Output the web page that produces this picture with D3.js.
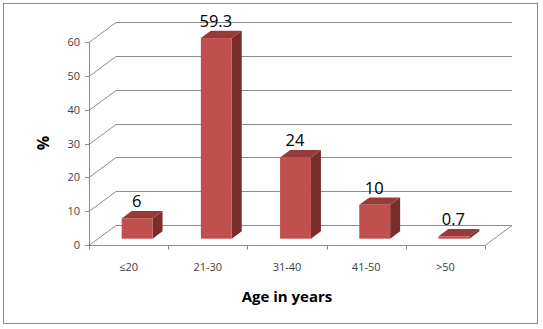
<!DOCTYPE html>
<html><head><meta charset="utf-8">
<script src="https://cdn.jsdelivr.net/npm/d3@7"></script>
<style>body{margin:0;background:#fff}svg{display:block}</style>
</head><body>
<svg id="c" width="543" height="329"></svg>
<script>
const categories = ["≤20", "21-30", "31-40", "41-50", ">50"];
const values = [6, 59.3, 24, 10, 0.7];
const labels = ["6", "59.3", "24", "10", "0.7"];
const yTicks = [0, 10, 20, 30, 40, 50, 60];

const svg = d3.select("#c");
svg.append("rect").attr("x", 3.5).attr("y", 3.5).attr("width", 534).attr("height", 320)
  .attr("fill", "#fff").attr("stroke", "#8a8a8a").attr("stroke-width", 1);

const x = d3.scaleBand().domain(categories).range([89, 485]);
const y = d3.scaleLinear().domain([0, 60]).range([245, 42]);
const dX = 27, dY = -20;            // floor depth
const bDX = 10, bDY = -7.4;          // bar depth
const sX = (dX - bDX) / 2, sY = (dY - bDY) / 2; // bar front-face shift
const barW = x.bandwidth() * 0.39;

const grid = "#8c8c8c";
const g = svg.append("g");
yTicks.forEach(t => {
  const yy = Math.round(y(t)) + 0.5;
  g.append("polyline")
    .attr("points", `89,${yy} ${89 + dX},${yy + dY} ${485 + dX},${yy + dY}`)
    .attr("fill", "none").attr("stroke", grid).attr("stroke-width", 1);
});
const y0 = Math.round(y(0)) + 0.5;
g.append("polyline").attr("points", `89,${y0} 485,${y0} ${485 + dX},${y0 + dY}`)
  .attr("fill", "none").attr("stroke", grid);
g.append("line").attr("x1", 89.5).attr("x2", 89.5).attr("y1", y(60)).attr("y2", y(0) + 0.5)
  .attr("stroke", grid);
yTicks.forEach(t => {
  const yy = Math.round(y(t)) + 0.5;
  g.append("line").attr("x1", 85).attr("x2", 89.5).attr("y1", yy).attr("y2", yy).attr("stroke", grid);
  g.append("text").attr("x", 80).attr("y", yy).attr("dy", "0.35em").attr("text-anchor", "end")
    .attr("font-family", "Open Sans").attr("font-size", 11).attr("fill", "#404040").text(t);
});
const bounds = categories.map(c => x(c)).concat([x.range()[1]]);
bounds.forEach(b => {
  const xx = Math.round(b) + 0.5;
  g.append("line").attr("x1", xx).attr("x2", xx).attr("y1", y0).attr("y2", y0 + 4).attr("stroke", grid);
});
categories.forEach(c => {
  g.append("text").attr("x", x(c) + x.bandwidth() / 2).attr("y", 267).attr("dy", "0.35em")
    .attr("text-anchor", "middle").attr("font-family", "Open Sans").attr("font-size", 11)
    .attr("fill", "#404040").text(c);
});

const bars = svg.append("g");
categories.forEach((c, i) => {
  const v = values[i];
  const cx = x(c) + x.bandwidth() / 2 + sX;
  const xl = cx - barW / 2, xr = cx + barW / 2;
  const yb = y(0) + sY, yt = y(v) + sY;
  bars.append("polygon")
    .attr("points", `${xr},${yt} ${xr + bDX},${yt + bDY} ${xr + bDX},${yb + bDY} ${xr},${yb}`)
    .attr("fill", "#7a2e2c");
  bars.append("polygon")
    .attr("points", `${xl},${yt} ${xl + bDX},${yt + bDY} ${xr + bDX},${yt + bDY} ${xr},${yt}`)
    .attr("fill", "#983a38");
  bars.append("rect").attr("x", xl).attr("y", yt).attr("width", barW).attr("height", yb - yt)
    .attr("fill", "#c0504d");
  bars.append("text").attr("x", cx - 0.5).attr("y", yt + bDY - 3.8)
    .attr("text-anchor", "middle").attr("font-family", "Open Sans").attr("font-size", 16.5)
    .attr("fill", "#000").text(labels[i]);
});

svg.append("text").attr("transform", "translate(43,143) rotate(-90)").attr("dy", "0.35em")
  .attr("text-anchor", "middle").attr("font-family", "Open Sans").attr("font-weight", "bold")
  .attr("font-size", 16).text("%");
svg.append("text").attr("x", 287).attr("y", 297).attr("dy", "0.35em").attr("text-anchor", "middle")
  .attr("font-family", "Open Sans").attr("font-weight", "bold").attr("font-size", 15)
  .text("Age in years");
</script>
</body></html>
